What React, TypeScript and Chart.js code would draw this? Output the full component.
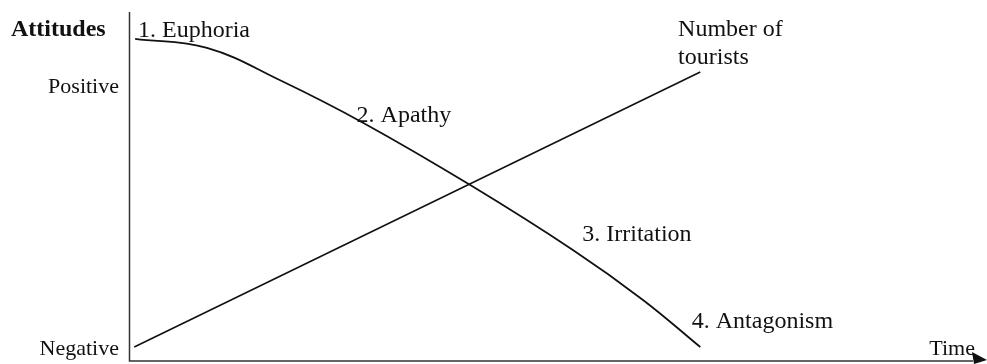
import React, { useEffect, useRef } from "react";
import { Chart, registerables } from "chart.js";

Chart.register(...registerables);

// Resident attitude curve (Doxey irritation index), in chart units (x: time 0-100, y: attitude 0-100)
const attitudeX = [0.6, 9.0, 17.5, 27.3, 39.8, 51.8, 60.0, 66.7];
const attitudeY = [92.3, 89.7, 80.5, 68.2, 50.4, 31.8, 17.5, 4.0];

// Number of tourists (straight line)
const touristX = [0.5, 66.7];
const touristY = [4.0, 82.8];

// Stage labels with their anchor positions (data units, left/baseline)
const stageLabels = ["1. Euphoria", "2. Apathy", "3. Irritation", "4. Antagonism"];
const stageX = [0.94, 26.5, 52.9, 65.7];
const stageY = [92.8, 68.5, 34.4, 9.5];

const seriesLabelLines = ["Number of", "tourists"];
const seriesLabelX = 64.1;
const seriesLabelY = [93.1, 85.0];

const yAxisTitle = "Attitudes";
const yTickLabels = ["Positive", "Negative"];
const yTickValues = [76.8, 1.7];
const xAxisTitle = "Time";

const FONT = "'Liberation Serif', 'Times New Roman', serif";

const annotationPlugin = {
  id: "doxeyAnnotations",
  afterDraw(chart: any) {
    const { ctx, chartArea, scales } = chart;
    const xs = scales.x;
    const ys = scales.y;
    ctx.save();
    // axes
    ctx.strokeStyle = "#333";
    ctx.lineWidth = 1.5;
    ctx.beginPath();
    ctx.moveTo(chartArea.left - 0.5, chartArea.top);
    ctx.lineTo(chartArea.left - 0.5, chartArea.bottom);
    ctx.lineTo(chartArea.right - 12, chartArea.bottom);
    ctx.stroke();
    // arrow head
    ctx.fillStyle = "#111";
    ctx.beginPath();
    ctx.moveTo(chartArea.right - 13, chartArea.bottom - 9);
    ctx.lineTo(chartArea.right + 2, chartArea.bottom - 1);
    ctx.lineTo(chartArea.right - 11, chartArea.bottom + 3);
    ctx.closePath();
    ctx.fill();

    ctx.fillStyle = "#111";
    ctx.textBaseline = "alphabetic";
    // stage labels
    ctx.font = `24px ${FONT}`;
    ctx.textAlign = "left";
    stageLabels.forEach((t, i) => {
      ctx.fillText(t, xs.getPixelForValue(stageX[i]), ys.getPixelForValue(stageY[i]));
    });
    seriesLabelLines.forEach((t, i) => {
      ctx.fillText(t, xs.getPixelForValue(seriesLabelX), ys.getPixelForValue(seriesLabelY[i]));
    });
    // y tick labels
    ctx.font = `22px ${FONT}`;
    ctx.textAlign = "right";
    yTickLabels.forEach((t, i) => {
      ctx.fillText(t, chartArea.left - 11, ys.getPixelForValue(yTickValues[i]));
    });
    // x axis title
    ctx.textAlign = "right";
    ctx.fillText(xAxisTitle, chartArea.right - 10, chartArea.bottom - 6);
    // y axis title
    ctx.font = `bold 24px ${FONT}`;
    ctx.textAlign = "left";
    ctx.fillText(yAxisTitle, 11, 36);
    ctx.restore();
  },
};

export default function App() {
  const canvasRef = useRef<HTMLCanvasElement | null>(null);

  useEffect(() => {
    if (!canvasRef.current) return;
    const chart = new Chart(canvasRef.current, {
      type: "line",
      data: {
        datasets: [
          {
            label: "Attitudes",
            data: attitudeX.map((x, i) => ({ x, y: attitudeY[i] })),
            borderColor: "#111",
            borderWidth: 1.8,
            pointRadius: 0,
            fill: false,
            tension: 0.4,
          },
          {
            label: "Number of tourists",
            data: touristX.map((x, i) => ({ x, y: touristY[i] })),
            borderColor: "#111",
            borderWidth: 1.6,
            pointRadius: 0,
            fill: false,
            tension: 0,
          },
        ],
      },
      options: {
        animation: false,
        responsive: false,
        maintainAspectRatio: false,
        layout: { padding: { left: 130, right: 2, top: 12, bottom: 3 } },
        plugins: {
          legend: { display: false },
          tooltip: { enabled: false },
          title: { display: false },
        },
        scales: {
          x: { type: "linear", min: 0, max: 100, display: false },
          y: { type: "linear", min: 0, max: 100, display: false },
        },
      },
      plugins: [annotationPlugin],
    });
    return () => chart.destroy();
  }, []);

  return (
    <div style={{ position: "absolute", left: 0, top: 0, width: 987, height: 364, background: "#fff" }}>
      <canvas ref={canvasRef} width={987} height={364} style={{ display: "block" }} />
    </div>
  );
}
